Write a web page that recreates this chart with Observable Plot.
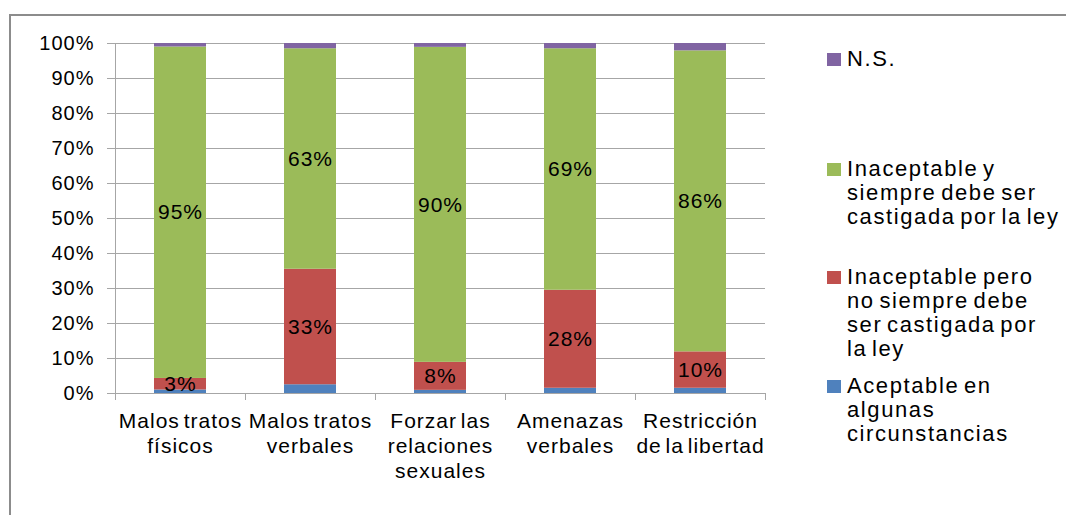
<!DOCTYPE html>
<html>
<head>
<meta charset="utf-8">
<script src="https://cdn.jsdelivr.net/npm/d3@7"></script>
<script src="https://cdn.jsdelivr.net/npm/@observablehq/plot@0.6"></script>
<style>
  html, body { margin: 0; padding: 0; background: #fff; }
  #wrap { position: relative; width: 1066px; height: 515px; overflow: hidden; font-family: "Liberation Sans", Arial, sans-serif; }
  #frame { position: absolute; left: 9px; top: 14px; width: 1200px; height: 700px; border-top: 2px solid #8c8c8c; border-left: 2px solid #8c8c8c; }
  #chart { position: absolute; left: 0; top: 0; }
  #chart svg text { letter-spacing: 1px; word-spacing: -3px; }
  .lg-sw { position: absolute; left: 827px; width: 14px; height: 13px; }
  .lg-tx { position: absolute; left: 847px; font-size: 22px; line-height: 24px; letter-spacing: 1.6px; word-spacing: -3px; white-space: pre; color: #000; }
</style>
</head>
<body>
<div id="wrap">
  <div id="frame"></div>
  <div id="chart"></div>
  <div id="legend"></div>
</div>
<script>
// ---- data ----
const categories = ["Malos tratos físicos", "Malos tratos verbales", "Forzar las relaciones sexuales", "Amenazas verbales", "Restricción de la libertad"];
const categoryLabels = ["Malos tratos\nfísicos", "Malos tratos\nverbales", "Forzar las\nrelaciones\nsexuales", "Amenazas\nverbales", "Restricción\nde la libertad"];
const seriesNames = ["Aceptable en algunas circunstancias", "Inaceptable pero no siempre debe ser castigada por la ley", "Inaceptable y siempre debe ser castigada por la ley", "N.S."];
const aceptable = [1.0, 2.5, 0.9, 1.5, 1.5];
const noSiempre = [3.3, 33.0, 8.0, 28.0, 10.4];
const siempre = [94.7, 63.0, 90.0, 69.0, 86.0];
const ns = [1.0, 1.5, 1.1, 1.5, 2.1];
const labeledSeries = [false, true, true, false];
const seriesColors = ["#4F81BD", "#C0504D", "#9BBB59", "#8064A2"];
const yTicks = [0, 10, 20, 30, 40, 50, 60, 70, 80, 90, 100];
// legend (top to bottom as in the reference)
const legendLabels = ["N.S.", "Inaceptable y\nsiempre debe ser\ncastigada por la ley", "Inaceptable pero\nno siempre debe\nser castigada por\nla ley", "Aceptable en\nalgunas\ncircunstancias"];
const legendColors = ["#8064A2", "#9BBB59", "#C0504D", "#4F81BD"];
const legendBaselines = [67, 177, 285, 394];

// ---- table ----
const seriesValues = [aceptable, noSiempre, siempre, ns];
const rows = [];
seriesNames.forEach((s, si) => {
  categories.forEach((c, ci) => {
    rows.push({cat: c, series: s, value: seriesValues[si][ci], show: labeledSeries[si]});
  });
});

function boundaryTicks(index, scales) {
  const x = scales.x, y = scales.y;
  const bw = x.bandwidth();
  const step = typeof x.step === "function" ? x.step() : scales.scales.x.step;
  const edges = categories.map(c => x(c) - (step - bw) / 2);
  edges.push(edges[edges.length - 1] + step);
  const y0 = y(0);
  const g = d3.create("svg:g").attr("stroke", "#a6a6a6").attr("stroke-width", 1);
  g.selectAll("line.t").data(edges).join("line")
    .attr("x1", d => Math.round(d) + 0.5).attr("x2", d => Math.round(d) + 0.5)
    .attr("y1", y0).attr("y2", y0 + 7);
  g.append("line")
    .attr("x1", Math.round(edges[0]) + 0.5).attr("x2", Math.round(edges[0]) + 0.5)
    .attr("y1", y(0)).attr("y2", y(100));
  return g.node();
}

const chart = Plot.plot({
  width: 1066,
  height: 515,
  marginTop: 43,
  marginBottom: 122,
  marginLeft: 115,
  marginRight: 301,
  style: {fontFamily: "'Liberation Sans', Arial, sans-serif", fontSize: "20px", color: "#000", background: "transparent", overflow: "visible"},
  x: {type: "band", domain: categories, paddingInner: 0.6, paddingOuter: 0.3, axis: null, label: null},
  y: {domain: [0, 100], label: null, axis: null},
  color: {domain: seriesNames, range: seriesColors},
  marks: [
    Plot.gridY(yTicks, {stroke: "#a6a6a6", strokeOpacity: 1}),
    Plot.axisY(yTicks, {tickFormat: d => d + "%", tickSize: 8, tickPadding: 13, fontSize: 20, stroke: "#a6a6a6", fill: "#000", label: null}),
    Plot.barY(rows, Plot.stackY({x: "cat", y: "value", z: "series", fill: "series"})),
    Plot.ruleY([0], {stroke: "#a6a6a6"}),
    boundaryTicks,
    Plot.text(rows, Plot.stackY({x: "cat", y: "value", z: "series", text: d => d.show ? Math.round(d.value) + "%" : null, fontSize: 21, fill: "#000"})),
    Plot.text(categories, {x: d => d, text: (d, i) => categoryLabels[i], frameAnchor: "bottom", lineAnchor: "top", dy: 17, fontSize: 21, lineHeight: 25 / 21, fill: "#000"})
  ]
});
document.getElementById("chart").appendChild(chart);

// ---- legend ----
const legend = document.getElementById("legend");
legendLabels.forEach((lab, i) => {
  const sw = document.createElement("div");
  sw.className = "lg-sw";
  sw.style.background = legendColors[i];
  sw.style.top = (legendBaselines[i] - 14) + "px";
  legend.appendChild(sw);
  const tx = document.createElement("div");
  tx.className = "lg-tx";
  tx.textContent = lab;
  tx.style.top = (legendBaselines[i] - 19.6) + "px";
  legend.appendChild(tx);
});
</script>
</body>
</html>
